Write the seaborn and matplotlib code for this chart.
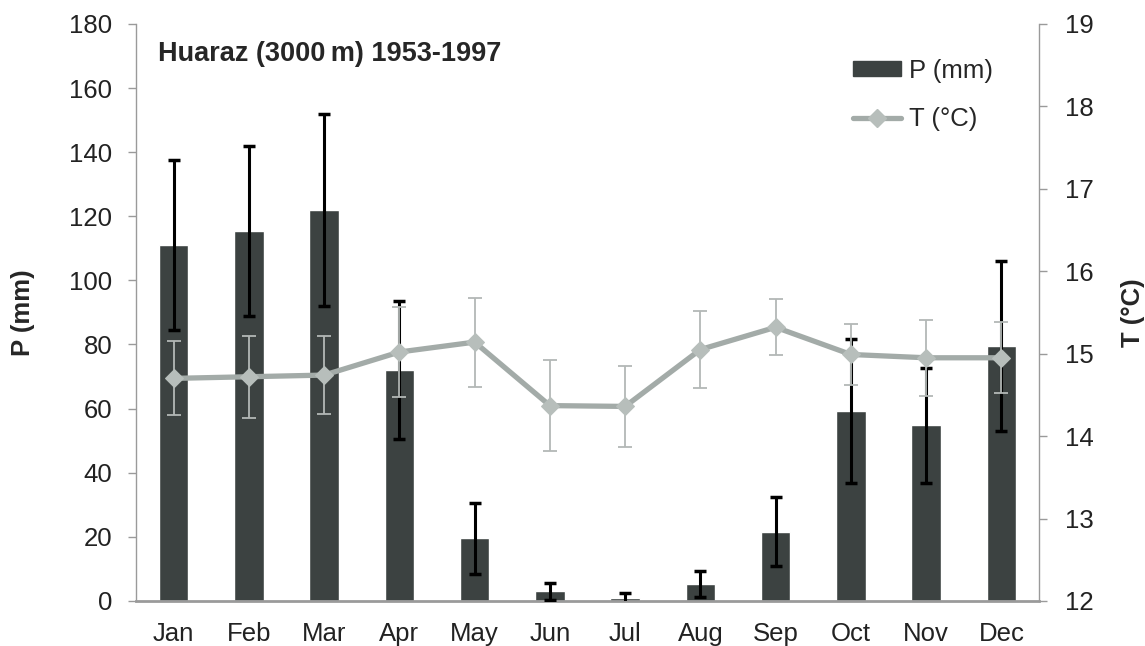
import numpy as np
import matplotlib
matplotlib.use('Agg')
import matplotlib.pyplot as plt
import seaborn as sns
from matplotlib.patches import Patch
from matplotlib.lines import Line2D

# Datos
months = ['Jan', 'Feb', 'Mar', 'Apr', 'May', 'Jun', 'Jul', 'Aug', 'Sep', 'Oct', 'Nov', 'Dec']
precip = [111, 115.5, 122, 72, 19.5, 3, 0.8, 5.2, 21.6, 59.3, 54.8, 79.5]
precip_err = [26.5, 26.5, 30, 21.5, 11, 2.7, 1.6, 4.1, 10.7, 22.5, 18, 26.5]
temp = [14.70, 14.72, 14.74, 15.02, 15.14, 14.37, 14.36, 15.05, 15.32, 14.99, 14.95, 14.95]
temp_err = [0.45, 0.50, 0.47, 0.54, 0.54, 0.55, 0.49, 0.47, 0.34, 0.37, 0.46, 0.43]

bar_color = '#3c4241'
line_color = '#a3aba8'
marker_color = '#b7bebb'
err_gray = '#b3b8b6'
spine_gray = '#9a9a9a'

sns.set_style('white')
plt.rcParams['font.family'] = ['Liberation Sans', 'DejaVu Sans']
plt.rcParams['font.size'] = 18.5

fig = plt.figure(figsize=(11.45, 6.46), dpi=100)
ax = fig.add_axes([0.1188, 0.0697, 0.7886, 0.8933])

x = np.arange(len(months))

# Barras de precipitacion
sns.barplot(x=x, y=precip, ax=ax, color=bar_color, width=0.39, saturation=1,
            native_scale=True, errorbar=None, zorder=2)
ax.errorbar(x, precip, yerr=precip_err, fmt='none', ecolor='black',
            elinewidth=2.2, capsize=4.5, capthick=2.5, zorder=3)

ax.set_xlim(-0.5, 11.5)
ax.set_ylim(0, 180)
ax.set_yticks(np.arange(0, 181, 20))
ax.set_xticks(x)
ax.set_xticklabels(months)
ax.set_xticks(np.arange(-0.5, 12, 1), minor=True)
ax.tick_params(axis='x', which='major', length=0, pad=15, labelcolor='#222222')
ax.tick_params(axis='x', which='minor', length=7, width=1.2, color=spine_gray, direction='out')
ax.tick_params(axis='y', length=6, width=1, color=spine_gray, direction='out',
               left=True, pad=11, labelcolor='#222222')
ax.set_ylabel('P (mm)', fontweight='bold', labelpad=25)

for side in ['top', 'right']:
    ax.spines[side].set_visible(False)
ax.spines['left'].set_color(spine_gray)
ax.spines['left'].set_linewidth(1)
ax.spines['bottom'].set_color(spine_gray)
ax.spines['bottom'].set_linewidth(2)

# Temperatura en el eje derecho
ax2 = ax.twinx()
ax2.errorbar(x, temp, yerr=temp_err, fmt='none', ecolor=err_gray,
             elinewidth=1.3, capsize=5, capthick=1.3, zorder=2)
sns.lineplot(x=x, y=temp, ax=ax2, color=line_color, linewidth=3.8,
             marker='D', markersize=9, markerfacecolor=marker_color,
             markeredgecolor=marker_color, zorder=3)
ax2.set_ylim(12, 19)
ax2.set_yticks(np.arange(12, 20, 1))
ax2.tick_params(axis='y', length=6, width=1, color=spine_gray, direction='out',
                right=True, pad=13, labelcolor='#222222')
ax2.set_ylabel('T (°C)', fontweight='bold', labelpad=19)
for side in ['top', 'left', 'bottom']:
    ax2.spines[side].set_visible(False)
ax2.spines['right'].set_color(spine_gray)
ax2.spines['right'].set_linewidth(1)

ax.text(0.024, 0.948, 'Huaraz (3000\u2009m) 1953-1997', transform=ax.transAxes,
        fontsize=19.5, fontweight='bold', va='center', ha='left')

handles = [Patch(facecolor=bar_color, edgecolor=bar_color),
           Line2D([], [], color=line_color, linewidth=3.8, marker='D',
                  markersize=9, markerfacecolor=marker_color, markeredgecolor=marker_color)]
ax2.legend(handles, ['P (mm)', 'T (°C)'], loc='upper left',
           bbox_to_anchor=(0.768, 0.98), frameon=False, handlelength=1.9,
           handleheight=0.55, handletextpad=0.3, labelspacing=0.95, fontsize=18.5)

fig.savefig('out.png', dpi=100)
